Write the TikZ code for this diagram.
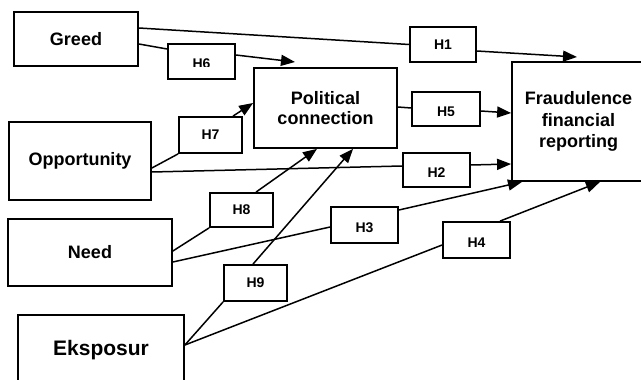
\documentclass[tikz,border=0pt]{standalone}
\usepackage{fontspec}
\setmainfont{Liberation Sans}
\usetikzlibrary{arrows.meta}
\tikzset{
 mainbox/.style={draw,line width=1.8pt,inner sep=0pt,align=center,font=\bfseries\fontsize{18}{21}\selectfont},
 hbox/.style={draw,line width=1.8pt,inner sep=0pt,font=\bfseries\fontsize{14}{16}\selectfont},
 htext/.style={inner sep=0pt,anchor=north,font=\bfseries\fontsize{14}{16}\selectfont},
 conn/.style={line width=1.5pt},
 arr/.style={line width=1.5pt,-{Triangle[length=14pt,width=11pt]}},
}
\begin{document}
\begin{tikzpicture}[x=1pt,y=-1pt]
\clip (0,0) rectangle (641,380);
% main boxes
\node[mainbox,minimum width=124pt,minimum height=54pt] (greed) at (76,39) {Greed};
\node[mainbox,minimum width=142pt,minimum height=78pt] (opp) at (80,161) {Opportunity};
\node[mainbox,minimum width=164pt,minimum height=67pt] (need) at (90,252.5) {Need};
\node[mainbox,minimum width=166pt,minimum height=70pt,font=\bfseries\fontsize{21}{24}\selectfont] (eks) at (101,350) {Eksposur};
\node[mainbox,minimum width=143pt,minimum height=80pt,font=\bfseries\fontsize{18}{20}\selectfont] (pol) at (325.5,108) {Political\\connection};
\node[mainbox,minimum width=133pt,minimum height=119pt,font=\bfseries\fontsize{18}{21.5}\selectfont] (fraud) at (578.5,121.5) {Fraudulence\\financial\\reporting};
% hypothesis boxes
\node[hbox,minimum width=66pt,minimum height=35pt] (h1) at (443,44.5) {H1};
\node[hbox,minimum width=67pt,minimum height=35pt] (h6) at (201.5,61.5) {};
\node[hbox,minimum width=63pt,minimum height=36pt] (h7) at (210.5,135) {H7};
\node[hbox,minimum width=68pt,minimum height=34pt] (h5) at (446,109) {};
\node[hbox,minimum width=67pt,minimum height=34pt] (h2) at (436.5,170) {};
\node[hbox,minimum width=63pt,minimum height=34pt] (h8) at (241.5,210) {H8};
\node[hbox,minimum width=67pt,minimum height=36pt] (h3) at (364.5,225) {};
\node[hbox,minimum width=63pt,minimum height=36pt] (h9) at (255.5,283) {H9};
\node[hbox,minimum width=67pt,minimum height=36pt] (h4) at (476.5,240) {};
% partly hidden labels
\begin{scope}\clip (168,0) rectangle (235,66); \node[htext] (h6t) at (201.5,59) {H6}; \end{scope}
\begin{scope}\clip (412,0) rectangle (480,115); \node[htext] (h5t) at (446,107) {H5}; \end{scope}
\begin{scope}\clip (403,0) rectangle (470,177); \node[htext] (h2t) at (436.5,168) {H2}; \end{scope}
\begin{scope}\clip (331,0) rectangle (398,233); \node[htext] (h3t) at (364.5,223) {H3}; \end{scope}
\begin{scope}\clip (443,0) rectangle (510,248); \node[htext] (h4t) at (476.5,238) {H4}; \end{scope}
% arrow end points
\coordinate (t1) at (577,57);
\coordinate (t6) at (295,62);
% connectors
\draw[conn] (greed.east |- 0,28) -- (h1.west);
\draw[arr] (h1.east |- 0,51) -- (t1);
\draw[conn] (greed.east |- 0,44) -- (h6.west |- 0,49);
\draw[arr] (h6.east |- 0,55) -- (t6);
\draw[conn] (opp.east |- 0,168) -- (h7.south west);
\draw[arr] (h7.north -| 233,0) -- (pol.west |- 0,103);
\draw[conn] (opp.east |- 0,172) -- (h2.west |- 0,166);
\draw[arr] (h2.east |- 0,165) -- (fraud.west |- 0,164);
\draw[conn] (pol.east |- 0,107) -- (h5.west |- 0,108);
\draw[arr] (h5.east |- 0,111) -- (fraud.west |- 0,113);
\draw[conn] (need.east |- 0,251) -- (h8.south west);
\draw[arr] (h8.north -| 256,0) -- (pol.south -| 317,0);
\draw[conn] (need.east |- 0,262) -- (h3.west |- 0,227);
\draw[arr] (h3.east |- 0,210) -- (fraud.south -| 522,0);
\draw[conn] (eks.east |- 0,345) -- (h9.south west);
\draw[arr] (h9.north -| 253,0) -- (pol.south -| 353,0);
\draw[conn] (eks.east |- 0,345) -- (h4.west |- 0,245);
\draw[arr] (h4.north -| 500,0) -- (fraud.south -| 600,0);
\end{tikzpicture}
\end{document}
